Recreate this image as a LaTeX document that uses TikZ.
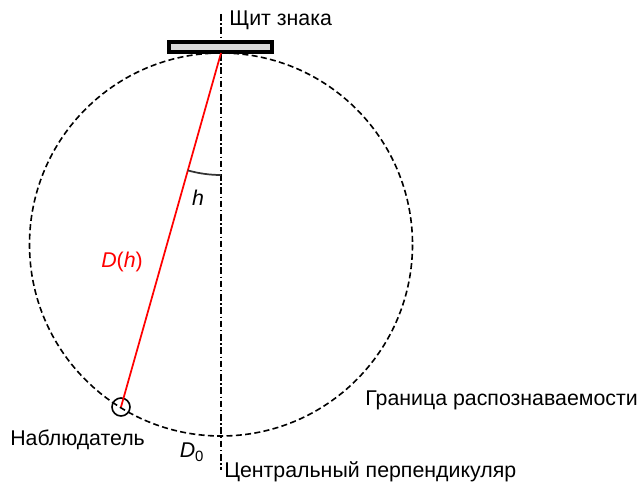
\documentclass[tikz,border=0pt]{standalone}
\usepackage{fontspec}
\setmainfont{Liberation Sans}
\begin{document}
\begin{tikzpicture}[
       x=0.75pt, y=-0.75pt,
       font=\fontsize{16}{18}\selectfont,
       ]
      \useasboundingbox (0,0) rectangle (641,485);

       % zone and axis
       \coordinate (C) at (221,244.5);
       \draw[line width=1.2pt, dash pattern=on 4.5pt off 2.5pt] (C) circle[radius=191.5];
       \draw[line width=1.1pt, dash pattern=on 5pt off 2pt on 1pt off 2pt]
         (221,14) coordinate (top) -- (221,470) coordinate (bot);

       % sign and observer
       \node[draw, line width=3pt, fill=gray!30, minimum width=103*0.75pt,
         minimum height=10*0.75pt, inner sep=0pt] (sign) at (220.5,47.5) {};
       \coordinate (S) at (221,53);
       \node[draw, circle, line width=1.2pt, minimum size=18*0.75pt, inner sep=0pt]
         (obs) at (121,407) {};
       \draw[red, line width=1.3pt] (S) -- (obs.center);
       \draw[black!80, line width=1.3pt] (S) ++(105.8:122) arc[start angle=105.8, end angle=90, radius=122];

       % labels
       \node[right, inner sep=0pt] (lsign) at (229,20) {Щит знака};
       \node[right, inner sep=0pt] (lzone) at (365,400) {Граница распознаваемости};
       \node[right, inner sep=0pt] (lobs) at (10,440) {Наблюдатель};
       \node[right, inner sep=0pt] (laxis) at (224,472) {Центральный перпендикуляр};
       \node[red] (lD) at (122,262) {\textit{D}(\textit{h})};
       \node (lh) at (198,198) {\textit{h}};
       \node (lD0) at (192,452) {\textit{D}\textsubscript{0}};
     \end{tikzpicture}
\end{document}
